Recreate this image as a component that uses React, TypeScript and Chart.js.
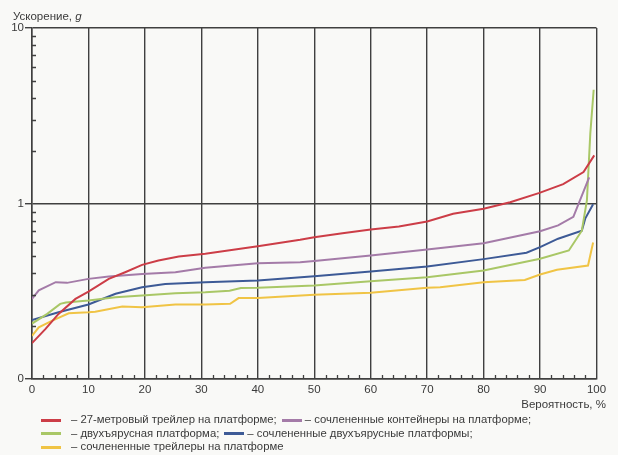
import React, { useEffect, useRef } from "react";
import { Chart, registerables } from "chart.js";

Chart.register(...registerables);

const FONT = '"Liberation Sans", Arial, sans-serif';
const TEXT = "#3a3a3a";
const GRID = "#404040";

const seriesNames = [
  "27-метровый трейлер на платформе;",
  "сочлененные контейнеры на платформе;",
  "двухъярусная платформа;",
  "сочлененные двухъярусные платформы;",
  "сочлененные трейлеры на платформе",
];
const seriesColors = ["#cc3d47", "#a47ba8", "#a9c766", "#3d5a96", "#f0c445"];

const redX = [0, 2.4, 4.7, 7.7, 10, 13.6, 16.5, 19.5, 22.4, 26, 30.7, 40, 47.5, 50, 55, 60, 65, 70, 74.6, 80, 84.7, 89.9, 94.1, 97.7, 99.6];
const redY = [0.16, 0.193, 0.235, 0.286, 0.315, 0.372, 0.406, 0.447, 0.473, 0.499, 0.517, 0.571, 0.621, 0.643, 0.677, 0.711, 0.74, 0.79, 0.874, 0.933, 1.017, 1.15, 1.29, 1.51, 1.88];

const purpleX = [0, 1.2, 4.2, 6.2, 10, 13.6, 19.5, 25.4, 30.7, 40, 47.5, 50, 60, 70, 80, 90, 93.2, 95.9, 98.7];
const purpleY = [0.286, 0.32, 0.356, 0.353, 0.372, 0.384, 0.397, 0.406, 0.43, 0.456, 0.463, 0.471, 0.505, 0.547, 0.594, 0.695, 0.75, 0.84, 1.41];

const greenX = [0, 2.7, 5, 6, 10, 14.8, 19.5, 25.4, 30.7, 35, 37, 40, 50, 60, 70, 80, 90, 95.1, 97.4, 98.3, 98.9, 99.5];
const greenY = [0.207, 0.235, 0.268, 0.273, 0.28, 0.292, 0.299, 0.308, 0.312, 0.318, 0.33, 0.331, 0.341, 0.36, 0.38, 0.415, 0.484, 0.54, 0.7, 1.04, 2.5, 4.45];

const blueX = [0, 4.7, 10, 14.8, 19.5, 23.6, 30.7, 40, 50, 60, 70, 80, 87.6, 90, 93.2, 97.4, 98, 99.4];
const blueY = [0.217, 0.24, 0.266, 0.306, 0.333, 0.348, 0.356, 0.364, 0.385, 0.41, 0.438, 0.482, 0.524, 0.564, 0.63, 0.7, 0.82, 0.99];

const yellowX = [0, 1.2, 3.6, 6.5, 10, 11.2, 16, 19.5, 25.4, 30.7, 35.1, 36.6, 40, 50, 60, 70, 72.3, 80, 87.3, 90, 93, 98.5, 99.4];
const yellowY = [0.176, 0.197, 0.215, 0.237, 0.24, 0.242, 0.259, 0.256, 0.266, 0.266, 0.268, 0.289, 0.289, 0.302, 0.31, 0.331, 0.333, 0.356, 0.367, 0.394, 0.419, 0.443, 0.6];

const seriesX = [redX, purpleX, greenX, blueX, yellowX];
const seriesY = [redY, purpleY, greenY, blueY, yellowY];

const xTickStep = 10;
const xMinorStep = 2;
const yMajorLabels: Record<string, string> = { "0.1": "0", "1": "1", "10": "10" };

const isPow10 = (v: number) => Math.abs(Math.log10(v) - Math.round(Math.log10(v))) < 1e-6;

const minorTicks = {
  id: "minorTicks",
  afterDraw(chart: any) {
    const { ctx, chartArea, scales } = chart;
    ctx.save();
    ctx.strokeStyle = GRID;
    ctx.lineWidth = 1.3;
    ctx.beginPath();
    for (const k of [0.1, 1]) {
      for (let m = 2; m <= 9; m++) {
        const py = Math.round(scales.y.getPixelForValue(m * k)) + 0.5;
        ctx.moveTo(chartArea.left, py);
        ctx.lineTo(chartArea.left + 4, py);
      }
    }
    for (let v = 0; v <= 100; v += xMinorStep) {
      if (v % xTickStep === 0) continue;
      const px = Math.round(scales.x.getPixelForValue(v)) + 0.5;
      ctx.moveTo(px, chartArea.bottom);
      ctx.lineTo(px, chartArea.bottom - 4);
    }
    ctx.stroke();
    ctx.restore();
  },
};

function ChartCanvas() {
  const ref = useRef<HTMLCanvasElement>(null);
  useEffect(() => {
    const datasets = seriesNames.map((name, i) => ({
      label: name,
      data: seriesX[i].map((x, j) => ({ x, y: seriesY[i][j] })),
      borderColor: seriesColors[i],
      backgroundColor: seriesColors[i],
      borderWidth: 2,
      pointRadius: 0,
      tension: 0,
      fill: false,
    }));
    const chart = new Chart(ref.current as HTMLCanvasElement, {
      type: "line",
      data: { datasets },
      plugins: [minorTicks],
      options: {
        animation: false,
        responsive: false,
        maintainAspectRatio: false,
        layout: { padding: { left: 0, top: 28, right: 21.5, bottom: 0 } },
        plugins: { legend: { display: false }, tooltip: { enabled: false } },
        scales: {
          x: {
            type: "linear",
            min: 0,
            max: 100,
            afterFit: (s: any) => {
              s.height = 76;
            },
            ticks: {
              stepSize: xTickStep,
              color: TEXT,
              font: { family: FONT, size: 11.5 },
              padding: 4,
              maxRotation: 0,
            },
            grid: { color: GRID, lineWidth: 1.4, drawTicks: false },
            border: { display: true, color: GRID, width: 1.5 },
          },
          y: {
            type: "logarithmic",
            min: 0.1,
            max: 10,
            afterFit: (s: any) => {
              s.width = 32;
            },
            ticks: {
              autoSkip: false,
              color: TEXT,
              font: { family: FONT, size: 11.5 },
              padding: 1,
              callback: (v: any) => {
                const n = Number(v);
                if (!isPow10(n)) return "";
                return yMajorLabels[String(Math.round(n * 10) / 10)] ?? "";
              },
            },
            grid: {
              color: (c: any) => (c.tick && isPow10(c.tick.value) ? GRID : "rgba(0,0,0,0)"),
              tickColor: (c: any) => (c.tick && isPow10(c.tick.value) ? GRID : "rgba(0,0,0,0)"),
              lineWidth: 1.4,
              tickLength: 7,
            },
            border: { display: true, color: GRID, width: 1.5 },
          },
        },
      } as any,
    });
    return () => chart.destroy();
  }, []);
  return <canvas ref={ref} width={618} height={455} style={{ position: "absolute", left: 0, top: 0 }} />;
}

function Swatch({ color, gap }: { color: string; gap: number }) {
  return (
    <span
      style={{
        display: "inline-block",
        width: 20,
        height: 3,
        background: color,
        verticalAlign: "middle",
        marginRight: gap,
      }}
    />
  );
}

export default function App() {
  const textStyle: React.CSSProperties = {
    position: "absolute",
    fontFamily: FONT,
    fontSize: 11.3,
    color: TEXT,
    whiteSpace: "nowrap",
    lineHeight: "14px",
  };
  const legendRows = [[0, 1], [2, 3], [4]];
  return (
    <div style={{ position: "absolute", left: 0, top: 0, width: 618, height: 455, background: "#f9f9f7", overflow: "hidden" }}>
      <ChartCanvas />
      <div style={{ ...textStyle, fontSize: 11.5, left: 13, top: 9 }}>
        Ускорение, <i>g</i>
      </div>
      <div style={{ ...textStyle, fontSize: 11.5, right: 12, top: 397 }}>Вероятность, %</div>
      {legendRows.map((row, r) => (
        <div key={r} style={{ ...textStyle, left: 41, top: 412 + r * 13.5 }}>
          {row.map((i, k) => (
            <span key={i} style={{ marginLeft: k > 0 ? 5 : 0 }}>
              <Swatch color={seriesColors[i]} gap={k > 0 ? 3 : 10} />
              {"– " + seriesNames[i]}
            </span>
          ))}
        </div>
      ))}
    </div>
  );
}
